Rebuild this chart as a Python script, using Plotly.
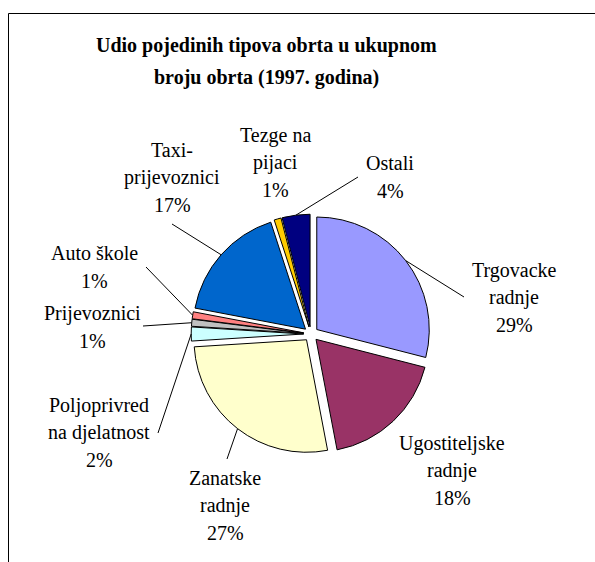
import math
import plotly.graph_objects as go

# ---- data ----
labels = ["Trgovacke radnje", "Ugostiteljske radnje", "Zanatske radnje",
          "Poljoprivredna djelatnost", "Prijevoznici", "Auto škole",
          "Taxi-prijevoznici", "Tezge na pijaci", "Ostali"]
values = [29, 18, 27, 2, 1, 1, 17, 1, 4]
label_lines = [["Trgovacke", "radnje"], ["Ugostiteljske", "radnje"], ["Zanatske", "radnje"],
               ["Poljoprivred", "na djelatnost"], ["Prijevoznici"], ["Auto škole"],
               ["Taxi-", "prijevoznici"], ["Tezge na", "pijaci"], ["Ostali"]]
title_lines = ["Udio pojedinih tipova obrta u ukupnom", "broju obrta (1997. godina)"]

# ---- style / layout ----
colors = ["#9999FF", "#993366", "#FFFFCC", "#CCFFFF", "#C0C0C0",
          "#FF8080", "#0066CC", "#FFCC00", "#000080"]
W, H = 595, 562
CX, CY, R, PULL = 311, 334, 112.5, 0.065
LINE_H = 27.5
FONT = "Liberation Serif"
# centre of first text line (pixels) for each label
label_pos = [(514, 270), (452, 443), (225, 478), (99, 405), (92, 313),
             (94, 253), (172, 150), (275, 135), (390, 163)]
# leader-line start at label side (pixels), None = no leader
leader_from = [(464, 297), None, (227, 459), (158, 433), (143, 326),
               (146, 267), (172, 224), None, (358, 177)]

half = R * (1 + PULL)
dom_x = [(CX - half) / W, (CX + half) / W]
dom_y = [1 - (CY + half) / H, 1 - (CY - half) / H]

def px(x):
    return x / W

def py(y):
    return 1 - y / H

fig = go.Figure(go.Pie(
    labels=labels, values=values, sort=False, direction="clockwise", rotation=0,
    pull=PULL, textinfo="none", hoverinfo="label+percent",
    marker=dict(colors=colors, line=dict(color="black", width=1)),
    domain=dict(x=dom_x, y=dom_y), showlegend=False,
))

total = sum(values)
annotations = []
shapes = []
cum = 0
for i, v in enumerate(values):
    mid = (cum + v / 2) / total * 2 * math.pi
    cum += v
    pct = f"{round(v / total * 100)}%"
    lines = label_lines[i] + [pct]
    lx, ly = label_pos[i]
    for k, t in enumerate(lines):
        annotations.append(dict(
            x=px(lx), y=py(ly + k * LINE_H), xref="paper", yref="paper",
            text=t, showarrow=False, xanchor="center", yanchor="middle",
            font=dict(family=FONT, size=20, color="black")))
    if leader_from[i] is not None:
        ex = CX + half * math.sin(mid)
        ey = CY - half * math.cos(mid)
        sx, sy = leader_from[i]
        shapes.append(dict(type="line", xref="paper", yref="paper",
                           x0=px(sx), y0=py(sy), x1=px(ex), y1=py(ey),
                           line=dict(color="black", width=1)))

for k, t in enumerate(title_lines):
    annotations.append(dict(
        x=px(266), y=py(46 + k * 31), xref="paper", yref="paper",
        text=f"<b>{t}</b>", showarrow=False, xanchor="center", yanchor="middle",
        font=dict(family=FONT, size=20, color="black")))

# chart frame (top and left edges visible)
shapes.append(dict(type="line", xref="paper", yref="paper",
                   x0=px(8.5), y0=py(13.5), x1=1, y1=py(13.5),
                   line=dict(color="black", width=1)))
shapes.append(dict(type="line", xref="paper", yref="paper",
                   x0=px(8.5), y0=py(13.5), x1=px(8.5), y1=0,
                   line=dict(color="black", width=1)))

fig.update_layout(
    width=W, height=H, margin=dict(l=0, r=0, t=0, b=0),
    paper_bgcolor="white", plot_bgcolor="white",
    annotations=annotations, shapes=shapes,
)
fig.write_html("out.html", config={"displayModeBar": False},
               post_script="document.body.style.margin='0';")
